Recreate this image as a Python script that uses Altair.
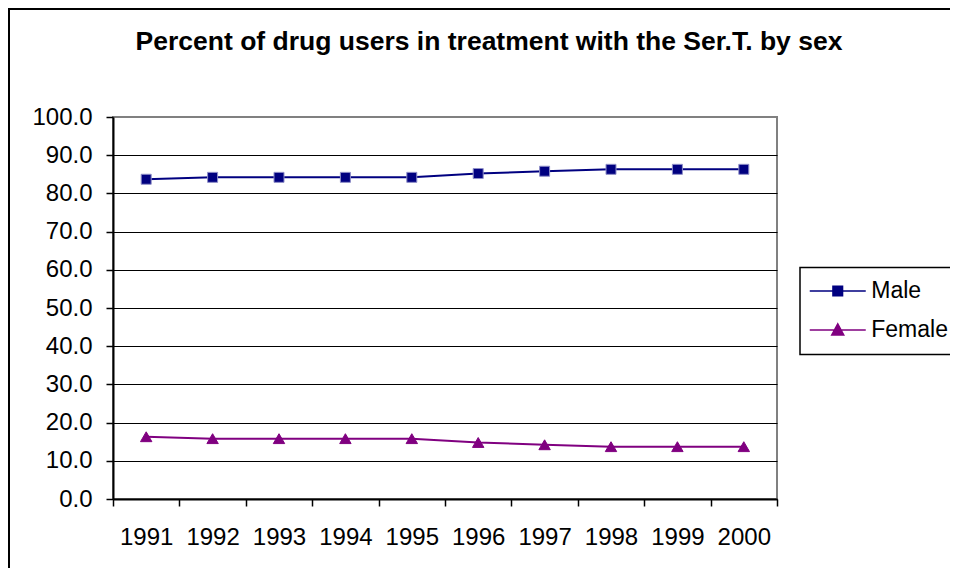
import altair as alt
import pandas as pd

# ---- data ----
years = ["1991", "1992", "1993", "1994", "1995", "1996", "1997", "1998", "1999", "2000"]
male = [83.7, 84.2, 84.2, 84.2, 84.2, 85.2, 85.8, 86.3, 86.3, 86.3]
female = [16.3, 15.8, 15.8, 15.8, 15.8, 14.8, 14.2, 13.7, 13.7, 13.7]
series = ["Male", "Female"]
colors = ["#000080", "#800080"]
marker_shapes = ["square", "triangle-up"]
marker_sizes = [100, 130]
marker_strokes = ["#8f8fc8", "#800080"]
y_ticks = [0, 10, 20, 30, 40, 50, 60, 70, 80, 90, 100]
title_text = "Percent of drug users in treatment with the Ser.T. by sex"

# legend glyphs: line segment + marker (unit = half the symbol box)
legend_glyphs = [
    "M-2.8,0L2.8,0M-0.48,-0.48L0.48,-0.48L0.48,0.48L-0.48,0.48Z",
    "M-2.8,0L2.8,0M0,-0.62L0.6,0.5L-0.6,0.5Z",
]

df = pd.DataFrame({
    "year": years * 2,
    "value": male + female,
    "sex": ["Male"] * len(years) + ["Female"] * len(years),
})

FONT = "Liberation Sans"
W, H = 664, 382
TOTAL_W, TOTAL_H = 942, 560
PAD_L, PAD_T = 105, 109

x_enc = alt.X(
    "year:O", bandPosition=0.5,
    scale=alt.Scale(type="band", paddingInner=0, paddingOuter=0),
    axis=alt.Axis(title=None, labelAngle=0, tickBand="extent", grid=False,
                  labelPadding=19, tickSize=7),
)
y_enc = alt.Y(
    "value:Q",
    scale=alt.Scale(domain=[0, 100], nice=False, zero=True),
    axis=alt.Axis(title=None, values=y_ticks, format=".1f", grid=True,
                  gridColor=alt.condition("datum.value === 100", alt.value("#808080"), alt.value("black")),
                  gridWidth=1, labelPadding=14, tickSize=7),
)

base = alt.Chart(df)
layers = []

frame = alt.Chart(pd.DataFrame({"f": [0]})).mark_rect(
    fill="transparent", stroke="black", strokeWidth=2
).encode(
    x=alt.value(-PAD_L + 1), x2=alt.value(TOTAL_W - PAD_L + 20),
    y=alt.value(-PAD_T + 1), y2=alt.value(TOTAL_H - PAD_T + 20),
)
layers.append(frame)

for s, c, shp, sz, sc in zip(series, colors, marker_shapes, marker_sizes, marker_strokes):
    sub = base.transform_filter(alt.datum.sex == s)
    layers.append(sub.mark_line(color=c, strokeWidth=2).encode(x=x_enc, y=y_enc))
    layers.append(sub.mark_point(shape=shp, filled=True, fill=c, stroke=sc, strokeWidth=1,
                                 size=sz, opacity=1).encode(x=x_enc, y=y_enc))

legend = alt.Legend(
    title=None, orient="none", legendX=687, legendY=150.5,
    labelFont=FONT, labelFontSize=23, labelColor="black",
    strokeColor="black", fillColor="white", padding=12,
    symbolSize=400, symbolStrokeWidth=1.5, symbolOffset=14.25,
    labelOffset=22, rowPadding=15,
)
legend_layer = base.transform_filter("false").mark_point(filled=True, opacity=1).encode(
    x=x_enc, y=y_enc,
    fill=alt.Fill("sex:N", scale=alt.Scale(domain=series, range=colors), sort=series, legend=legend),
    stroke=alt.Stroke("sex:N", scale=alt.Scale(domain=series, range=colors), sort=series, legend=legend),
    shape=alt.Shape("sex:N", scale=alt.Scale(domain=series, range=legend_glyphs), sort=series, legend=legend),
)
layers.append(legend_layer)

chart = alt.layer(*layers).properties(
    width=W, height=H,
    title=alt.Title(title_text, font=FONT, fontSize=26.5, fontWeight="bold", color="black",
                    anchor="middle", dx=44, baseline="alphabetic", offset=-68),
    autosize=alt.AutoSizeParams(type="none"),
    padding={"left": PAD_L, "top": PAD_T, "right": TOTAL_W - PAD_L - W,
             "bottom": TOTAL_H - PAD_T - H},
).configure(
    background="white",
).configure_view(
    stroke="#808080", strokeWidth=2,
).configure_axis(
    labelFont=FONT, labelFontSize=24, labelColor="black",
    domainColor="black", domainWidth=2, tickColor="black", tickWidth=1.5,
).configure_legend(
    strokeWidth=1.5,
)

chart.save("out.html", embed_options={"renderer": "svg", "actions": False})
